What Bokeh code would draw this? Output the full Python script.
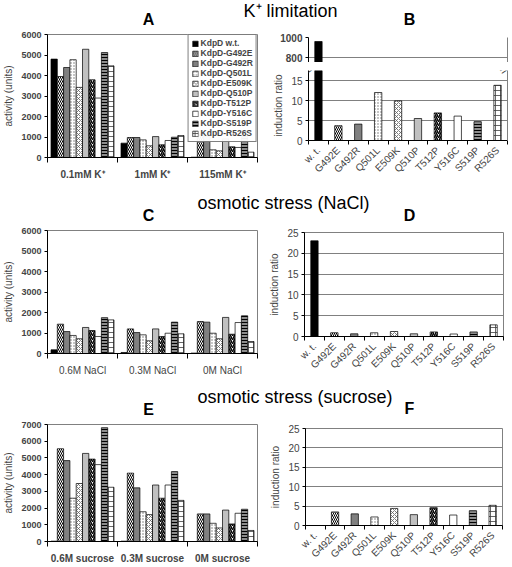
from bokeh.plotting import figure
from bokeh.models import (FixedTicker, LinearAxis, Range1d, ColumnDataSource,
                          Legend, LegendItem, Label)
from bokeh.layouts import column, row
from bokeh.embed import file_html
from bokeh.resources import INLINE

# ---------------- data ----------------
series = ["KdpD w.t.", "KdpD-G492E", "KdpD-G492R", "KdpD-Q501L", "KdpD-E509K",
          "KdpD-Q510P", "KdpD-T512P", "KdpD-Y516C", "KdpD-S519P", "KdpD-R526S"]
mutants = ["w. t.", "G492E", "G492R", "Q501L", "E509K",
           "Q510P", "T512P", "Y516C", "S519P", "R526S"]

section_titles = ["K\u207a limitation", "osmotic stress (NaCl)", "osmotic stress (sucrose)"]
panel_titles = ["A", "B", "C", "D", "E", "F"]

k_groups = ["0.1mM K\u207a", "1mM K\u207a", "115mM K\u207a"]
k_01 = [4800, 3950, 4390, 4770, 3420, 5280, 3790, 2900, 5120, 4470]
k_1 = [700, 975, 975, 860, 570, 1020, 620, 830, 990, 1070]
k_115 = [15, 1140, 1020, 375, 325, 910, 520, 490, 1020, 260]

nacl_groups = ["0.6M NaCl", "0.3M NaCl", "0M NaCl"]
nacl_06 = [180, 1430, 1070, 880, 720, 1270, 1120, 830, 1750, 1640]
nacl_03 = [50, 1200, 1020, 910, 620, 1200, 830, 990, 1530, 960]
nacl_0 = [20, 1560, 1530, 990, 720, 1760, 940, 1510, 1840, 585]

suc_groups = ["0.6M sucrose", "0.3M sucrose", "0M sucrose"]
suc_06 = [20, 5550, 4840, 2590, 3470, 5270, 4930, 4600, 6810, 3245]
suc_03 = [20, 4090, 3210, 1780, 1610, 3380, 2590, 3380, 4180, 2460]
suc_0 = [0, 1650, 1650, 1090, 810, 1880, 1050, 1690, 1930, 660]

ratio_k = [960, 3.7, 4.1, 12.0, 9.9, 5.5, 6.9, 6.1, 4.7, 13.8]
ratio_nacl = [23, 0.9, 0.65, 0.9, 1.2, 0.65, 1.1, 0.6, 1.1, 2.8]
ratio_suc = [0, 3.5, 3.0, 2.2, 4.4, 2.8, 4.6, 2.7, 3.8, 5.2]

# ---------------- styles ----------------
FONT = "Liberation Sans"
fills = ["#000000", "#ffffff", "#808080", "#ffffff", "#ffffff",
         "#c0c0c0", "#ffffff", "#ffffff", "#8c8c8c", "#ffffff"]
hatches = [" ", "\\", " ", ".", "x", " ", "/", " ", "-", "+"]
hcolors = ["black", "black", "black", "#707070", "#606060",
           "black", "black", "black", "black", "#404040"]
hscales = [4, 4, 4, 3, 4, 4, 4, 4, 3, 5]
hweights = [1, 1, 1, 1, 0.8, 1, 1.5, 1, 1, 0.8]


def bar_style(j):
    return dict(fill_color=fills[j], line_color="black", line_width=0.7,
                hatch_pattern=hatches[j], hatch_color=hcolors[j],
                hatch_scale=hscales[j], hatch_weight=hweights[j])


def grouped(groups, rows, ymax, ystep, xbold, h, top, bottom, left, legend=False):
    n = len(groups)
    p = figure(width=262, height=h, x_range=Range1d(-0.5, n - 0.5),
               y_range=Range1d(0, ymax), output_backend="svg", toolbar_location=None,
               min_border_left=left, min_border_right=5, min_border_top=top,
               min_border_bottom=bottom)
    p.xgrid.visible = False
    p.ygrid.visible = False
    p.outline_line_color = "#808080"
    bw = 0.09
    items = []
    for j in range(len(series)):
        xs = [i + (j - (len(series) - 1) / 2) * bw for i in range(n)]
        tops = [rows[i][j] for i in range(n)]
        src = ColumnDataSource(dict(x=xs, top=tops))
        r = p.vbar(x="x", top="top", width=bw, source=src, **bar_style(j))
        items.append(LegendItem(label=series[j], renderers=[r]))
    xa = p.xaxis[0]
    xa.ticker = FixedTicker(ticks=list(range(n)), minor_ticks=[i - 0.5 for i in range(n + 1)])
    xa.major_label_overrides = {i: g for i, g in enumerate(groups)}
    xa.major_tick_out = 0
    xa.major_tick_in = 0
    xa.minor_tick_out = 5
    xa.minor_tick_in = 0
    xa.minor_tick_line_color = "black"
    xa.major_label_standoff = 6
    xa.major_label_text_font = FONT
    xa.major_label_text_font_size = "10px"
    xa.major_label_text_font_style = "bold" if xbold else "normal"
    xa.axis_line_color = "black"
    ya = p.yaxis[0]
    ya.ticker = FixedTicker(ticks=list(range(0, ymax + 1, ystep)), minor_ticks=[])
    ya.major_tick_out = 3
    ya.major_tick_in = 0
    ya.major_label_standoff = 3
    ya.major_label_text_font = FONT
    ya.major_label_text_font_size = "9px"
    ya.major_label_text_font_style = "bold"
    ya.axis_label = "activity (units)"
    ya.axis_label_text_font = FONT
    ya.axis_label_text_font_size = "10px"
    ya.axis_label_text_font_style = "normal"
    ya.axis_label_standoff = 4
    ya.axis_line_color = "black"
    if legend:
        leg = Legend(items=items, location="top_right", label_text_font=FONT,
                     label_text_font_size="8.5px", label_text_font_style="bold",
                     glyph_height=7, glyph_width=7, label_height=7, spacing=0,
                     padding=3, margin=0, label_standoff=2,
                     border_line_color="black", border_line_width=1)
        p.add_layout(leg)
    return p


def style_ratio_y(p, ticks, bold):
    ya = p.yaxis[0]
    ya.ticker = FixedTicker(ticks=ticks, minor_ticks=[])
    ya.major_tick_out = 3
    ya.major_tick_in = 0
    ya.major_label_standoff = 3
    ya.major_label_text_font = FONT
    ya.major_label_text_font_size = "10px"
    ya.major_label_text_font_style = "bold" if bold else "normal"
    ya.axis_line_color = "black"
    p.ygrid.grid_line_color = "#808080"
    p.xgrid.visible = False


def style_ratio_x(p):
    n = len(mutants)
    xa = p.xaxis[0]
    xa.ticker = FixedTicker(ticks=list(range(n)), minor_ticks=[i - 0.5 for i in range(n + 1)])
    xa.major_label_overrides = {i: m for i, m in enumerate(mutants)}
    xa.major_label_orientation = 0.785
    xa.major_tick_out = 0
    xa.major_tick_in = 0
    xa.minor_tick_out = 4
    xa.minor_tick_in = 0
    xa.minor_tick_line_color = "black"
    xa.major_label_standoff = 4
    xa.major_label_text_font = FONT
    xa.major_label_text_font_size = "10px"
    xa.axis_line_color = "black"


def ratio_bars(p, vals):
    for j in range(len(mutants)):
        src = ColumnDataSource(dict(x=[j], top=[vals[j]]))
        p.vbar(x="x", top="top", width=0.37, source=src, **bar_style(j))


def ylabel(p, txt):
    ya = p.yaxis[0]
    ya.axis_label = txt
    ya.axis_label_text_font = FONT
    ya.axis_label_text_font_size = "10px"
    ya.axis_label_text_font_style = "normal"
    ya.axis_label_standoff = 4


def ratio_fig(vals, h, top, bottom, left, right):
    n = len(mutants)
    p = figure(width=250, height=h, x_range=Range1d(-0.5, n - 0.5), y_range=Range1d(0, 25),
               output_backend="svg", toolbar_location=None, min_border_left=left,
               min_border_right=right, min_border_top=top, min_border_bottom=bottom)
    p.outline_line_color = "#808080"
    ratio_bars(p, vals)
    style_ratio_y(p, [0, 5, 10, 15, 20, 25], False)
    style_ratio_x(p)
    ylabel(p, "induction ratio")
    return p


def right_border(p):
    ax = LinearAxis(ticker=FixedTicker(ticks=[], minor_ticks=[]), axis_line_color="#808080",
                    major_label_text_font_size="0px", major_tick_line_color=None,
                    minor_tick_line_color=None, major_label_standoff=0)
    p.add_layout(ax, "right")


def header(h, sec_text, sec_x, sec_y, left_title, left_xy, right_title, right_xy):
    # a text-only strip; y runs downward (pixels from the strip's top)
    p = figure(width=512, height=h, x_range=Range1d(0, 512), y_range=Range1d(h, 0),
               output_backend="svg", toolbar_location=None, min_border=0)
    p.axis.visible = False
    p.grid.visible = False
    p.outline_line_color = None
    p.add_layout(Label(x=sec_x, y=sec_y, text=sec_text, text_baseline="middle",
                       text_font=FONT, text_font_size="18px", text_color="black"))
    for t, (x, y) in ((left_title, left_xy), (right_title, right_xy)):
        p.add_layout(Label(x=x, y=y, text=t, text_align="center", text_baseline="middle",
                           text_font=FONT, text_font_size="16px", text_font_style="bold",
                           text_color="black"))
    return p


# ---------------- panel A / B ----------------
h1 = header(28, section_titles[0], 243, 10, panel_titles[0], (148, 19), panel_titles[1], (409, 19))
pA = grouped(k_groups, [k_01, k_1, k_115], 6000, 1000, True, 162, 6, 33, 47, legend=True)

n = len(mutants)
pBt = figure(width=250, height=34, x_range=Range1d(-0.5, n - 0.5), y_range=Range1d(750, 1000),
             output_backend="svg", toolbar_location=None, min_border_left=46,
             min_border_right=5, min_border_top=9, min_border_bottom=0)
pBt.outline_line_color = None
ratio_bars(pBt, ratio_k)
style_ratio_y(pBt, [800, 1000], True)
pBt.xaxis.visible = False
right_border(pBt)

pBb = figure(width=250, height=128, x_range=Range1d(-0.5, n - 0.5), y_range=Range1d(0, 17.5),
             output_backend="svg", toolbar_location=None, min_border_left=46,
             min_border_right=5, min_border_top=8, min_border_bottom=50)
pBb.outline_line_color = None
ratio_bars(pBb, ratio_k)
style_ratio_y(pBb, [0, 5, 10, 15], False)
style_ratio_x(pBb)
ylabel(pBb, "induction ratio")
right_border(pBb)
# axis-break marks at the top corners of the lower segment
for xb, xoff in ((pBb.x_range.start, 0), (pBb.x_range.end, -4)):
    pBb.add_layout(Label(x=xb, y=pBb.y_range.end, x_offset=xoff, text="=", angle=0.6,
                         text_align="center", text_baseline="middle", text_font_size="12px",
                         text_color="#404040", text_font=FONT))

# ---------------- panel C / D ----------------
h2 = header(34, section_titles[1], 197, 12, panel_titles[2], (148, 24.5), panel_titles[3], (409, 24.5))
pC = grouped(nacl_groups, [nacl_06, nacl_03, nacl_0], 6000, 1000, False, 159, 6, 30, 45)
pD = ratio_fig(ratio_nacl, 159, 8, 47, 42, 9)

# ---------------- panel E / F ----------------
h3 = header(35, section_titles[2], 197, 13, panel_titles[4], (148, 25.5), panel_titles[5], (409, 24.5))
pE = grouped(suc_groups, [suc_06, suc_03, suc_0], 7000, 1000, True, 148, 6, 19, 45)
pF = ratio_fig(ratio_suc, 148, 10, 34, 43, 10)

layout = column(
    h1,
    row(pA, column(pBt, pBb, spacing=0), spacing=0),
    h2,
    row(pC, column(pD, spacing=0), spacing=0),
    h3,
    row(pE, column(pF, spacing=0), spacing=0),
    spacing=0,
)

open("out.html", "w").write(file_html(layout, INLINE))
